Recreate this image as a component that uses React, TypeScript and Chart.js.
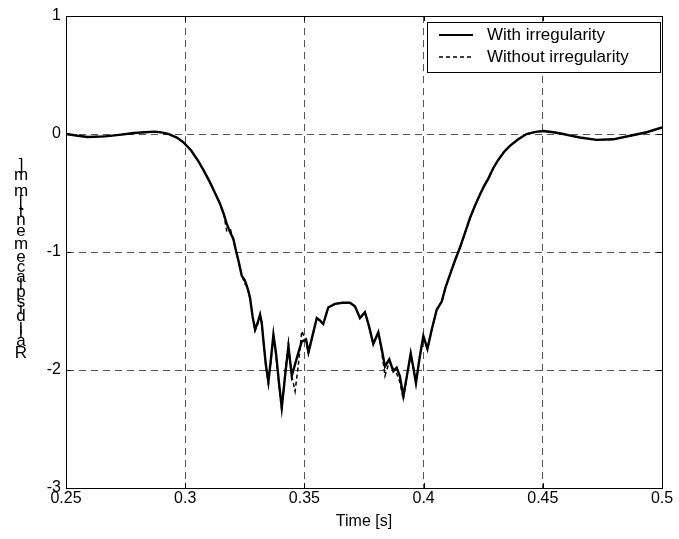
import React, { useEffect, useRef } from "react";
import { Chart, registerables } from "chart.js";

Chart.register(...registerables);

const timeS = [
  0.25, 0.255, 0.259, 0.2664, 0.2733, 0.2785, 0.2831, 0.2873, 0.2905, 0.2929,
  0.2965, 0.2992, 0.3025, 0.3055, 0.3078, 0.3104, 0.3125, 0.3146, 0.3162, 0.3174,
  0.319, 0.3202, 0.3213, 0.3223, 0.3237, 0.325, 0.3262, 0.3272, 0.3283, 0.3293,
  0.3304, 0.3314, 0.3321, 0.3328, 0.3338, 0.3349, 0.336, 0.337, 0.3381, 0.3393,
  0.3405, 0.3419, 0.3433, 0.3447, 0.3461, 0.3475, 0.3489, 0.3507, 0.3517, 0.3535,
  0.3552, 0.3565, 0.3579, 0.36, 0.3628, 0.366, 0.3691, 0.3712, 0.3733, 0.3754,
  0.377, 0.3789, 0.381, 0.3824, 0.3838, 0.3856, 0.3873, 0.3887, 0.39, 0.3915,
  0.393, 0.3946, 0.3957, 0.3968, 0.3983, 0.3999, 0.4016, 0.4035, 0.4055, 0.4076,
  0.4092, 0.4111, 0.4132, 0.4153, 0.4175, 0.4195, 0.4215, 0.4237, 0.4254, 0.4271,
  0.4292, 0.4313, 0.4338, 0.4362, 0.4397, 0.4432, 0.447, 0.4502, 0.4545, 0.4586,
  0.4621, 0.4656, 0.4726, 0.4796, 0.4866, 0.4936, 0.5,
];

const withIrregularity = [
  0.0, -0.015, -0.025, -0.02, -0.005, 0.008, 0.015, 0.02, 0.012, 0.0,
  -0.03, -0.07, -0.14, -0.23, -0.31, -0.41, -0.5, -0.59, -0.68, -0.76,
  -0.84, -0.89, -0.99, -1.07, -1.2, -1.24, -1.31, -1.39, -1.55, -1.655,
  -1.6, -1.53, -1.6, -1.75, -1.95, -2.1, -1.9, -1.7, -1.86, -2.1,
  -2.32, -2.05, -1.8, -2.05, -1.95, -1.85, -1.76, -1.74, -1.85, -1.7,
  -1.56, -1.58, -1.61, -1.47, -1.44, -1.43, -1.43, -1.46, -1.56, -1.51,
  -1.62, -1.78, -1.68, -1.82, -1.97, -1.91, -2.01, -1.98, -2.05, -2.22,
  -2.05, -1.86, -1.98, -2.11, -1.9, -1.71, -1.82, -1.65, -1.49, -1.42,
  -1.3, -1.19, -1.07, -0.96, -0.83, -0.71, -0.61, -0.51, -0.44, -0.38,
  -0.29, -0.22, -0.15, -0.1, -0.045, 0.0, 0.018, 0.025, 0.015, 0.0,
  -0.016, -0.03, -0.05, -0.045, -0.015, 0.015, 0.055,
];

const withoutIrregularity = [
  0.0, -0.015, -0.025, -0.02, -0.005, 0.008, 0.015, 0.02, 0.012, 0.0,
  -0.03, -0.07, -0.14, -0.23, -0.31, -0.41, -0.5, -0.59, -0.68, -0.82,
  -0.81, -0.9, -0.99, -1.08, -1.19, -1.27, -1.29, -1.4, -1.56, -1.67,
  -1.61, -1.54, -1.6, -1.74, -1.96, -2.12, -1.92, -1.72, -1.88, -2.12,
  -2.34, -2.02, -1.77, -2.05, -2.18, -1.95, -1.67, -1.76, -1.86, -1.71,
  -1.56, -1.58, -1.61, -1.47, -1.44, -1.43, -1.43, -1.46, -1.56, -1.51,
  -1.63, -1.78, -1.68, -1.84, -2.05, -1.93, -1.99, -2.03, -2.1, -2.25,
  -2.06, -1.87, -1.99, -2.1, -1.9, -1.72, -1.82, -1.65, -1.49, -1.42,
  -1.3, -1.19, -1.07, -0.96, -0.83, -0.71, -0.61, -0.51, -0.44, -0.38,
  -0.29, -0.22, -0.15, -0.1, -0.045, 0.0, 0.018, 0.025, 0.015, 0.0,
  -0.016, -0.03, -0.05, -0.045, -0.015, 0.015, 0.055,
];

const xTickValues = [0.25, 0.3, 0.35, 0.4, 0.45, 0.5];
const xTickLabels = ["0.25", "0.3", "0.35", "0.4", "0.45", "0.5"];
const yTickValues = [1, 0, -1, -2, -3];
const yTickLabels = ["1", "0", "-1", "-2", "-3"];

const seriesNames = ["With irregularity", "Without irregularity"];
const xTitle = "Time [s]";
const yTitle = "Rail displacement [mm]";

const FONT = "Arial, 'Liberation Sans', Helvetica, sans-serif";

const framePlugin = {
  id: "frame",
  afterDraw(chart: any) {
    const { ctx, chartArea: a, scales } = chart;
    ctx.save();
    ctx.strokeStyle = "#000";
    ctx.lineWidth = 1;
    ctx.setLineDash([]);
    ctx.strokeRect(Math.round(a.left) + 0.5, Math.round(a.top) + 0.5, Math.round(a.right - a.left), Math.round(a.bottom - a.top));
    const tl = 5;
    ctx.beginPath();
    xTickValues.forEach((v) => {
      const x = Math.round(scales.x.getPixelForValue(v)) + 0.5;
      ctx.moveTo(x, a.bottom);
      ctx.lineTo(x, a.bottom - tl);
      ctx.moveTo(x, a.top);
      ctx.lineTo(x, a.top + tl);
    });
    yTickValues.forEach((v) => {
      const y = Math.round(scales.y.getPixelForValue(v)) + 0.5;
      ctx.moveTo(a.left, y);
      ctx.lineTo(a.left + tl, y);
      ctx.moveTo(a.right, y);
      ctx.lineTo(a.right - tl, y);
    });
    ctx.stroke();

    // y title: upright characters stacked bottom-to-top
    ctx.font = `17px ${FONT}`;
    ctx.fillStyle = "#000";
    ctx.textAlign = "center";
    ctx.textBaseline = "middle";
    const chars = Array.from(yTitle);
    const widths = chars.map((c) => ctx.measureText(c).width);
    const centers: number[] = [];
    let cum = 0;
    widths.forEach((w) => {
      centers.push(cum + w / 2);
      cum += w;
    });
    const yBottom = 353;
    const yTop = 165;
    const k = (yBottom - yTop) / (centers[centers.length - 1] - centers[0]);
    chars.forEach((c, i) => {
      const y = yBottom - (centers[i] - centers[0]) * k;
      ctx.fillText(c, 21, y);
    });

    // legend
    const lx = 427, ly = 22, lw = 233, lh = 50;
    ctx.fillStyle = "#fff";
    ctx.fillRect(lx, ly, lw, lh);
    ctx.strokeStyle = "#000";
    ctx.lineWidth = 1;
    ctx.strokeRect(lx + 0.5, ly + 0.5, lw, lh);
    const rows = [35, 57];
    ctx.lineWidth = 2;
    ctx.beginPath();
    ctx.moveTo(439, rows[0]);
    ctx.lineTo(473, rows[0]);
    ctx.stroke();
    ctx.lineWidth = 1.5;
    ctx.setLineDash([4, 3]);
    ctx.beginPath();
    ctx.moveTo(439, rows[1]);
    ctx.lineTo(473, rows[1]);
    ctx.stroke();
    ctx.setLineDash([]);
    ctx.fillStyle = "#000";
    ctx.textAlign = "left";
    ctx.font = `17px ${FONT}`;
    seriesNames.forEach((n, i) => ctx.fillText(n, 487, rows[i]));
    ctx.restore();
  },
};

export default function App() {
  const ref = useRef<HTMLCanvasElement | null>(null);
  useEffect(() => {
    if (!ref.current) return;
    const chart = new Chart(ref.current, {
      type: "line",
      data: {
        datasets: [
          {
            label: seriesNames[0],
            data: timeS.map((t, i) => ({ x: t, y: withIrregularity[i] })),
            borderColor: "#000",
            borderWidth: 2.4,
            pointRadius: 0,
            tension: 0,
          },
          {
            label: seriesNames[1],
            data: timeS.map((t, i) => ({ x: t, y: withoutIrregularity[i] })),
            borderColor: "#000",
            borderWidth: 1.5,
            borderDash: [4, 3],
            pointRadius: 0,
            tension: 0,
          },
        ],
      },
      options: {
        animation: false,
        responsive: false,
        events: [],
        layout: { padding: { left: 0, top: 16, right: 17, bottom: 0 } },
        plugins: { legend: { display: false }, tooltip: { enabled: false } },
        scales: {
          x: {
            type: "linear",
            min: 0.25,
            max: 0.5,
            afterBuildTicks: (s: any) => {
              s.ticks = xTickValues.map((v) => ({ value: v }));
            },
            afterFit: (s: any) => {
              s.height = 51;
            },
            ticks: {
              padding: 1,
              color: "#000",
              font: { family: FONT, size: 16 },
              maxRotation: 0,
              callback: (v: any) => {
                const i = xTickValues.findIndex((t) => Math.abs(t - v) < 1e-9);
                return i >= 0 ? xTickLabels[i] : "";
              },
            },
            grid: { color: "#555", lineWidth: 1, drawTicks: false },
            border: { display: true, color: "#000", width: 1, dash: [7, 5] },
            title: {
              display: true,
              text: xTitle,
              color: "#000",
              font: { family: FONT, size: 16 },
              padding: { top: 0, bottom: 8 },
            },
          },
          y: {
            type: "linear",
            min: -3,
            max: 1,
            afterBuildTicks: (s: any) => {
              s.ticks = yTickValues.map((v) => ({ value: v }));
            },
            afterFit: (s: any) => {
              s.width = 66;
            },
            ticks: {
              padding: 5,
              color: "#000",
              font: { family: FONT, size: 16 },
              callback: (v: any) => {
                const i = yTickValues.findIndex((t) => Math.abs(t - v) < 1e-9);
                return i >= 0 ? yTickLabels[i] : "";
              },
            },
            grid: { color: "#555", lineWidth: 1, drawTicks: false },
            border: { display: true, color: "#000", width: 1, dash: [7, 5] },
          },
        },
      },
      plugins: [framePlugin],
    } as any);
    return () => chart.destroy();
  }, []);
  return (
    <div style={{ position: "absolute", left: 0, top: 0, width: 679, height: 539, background: "#fff" }}>
      <canvas ref={ref} width={679} height={539} style={{ display: "block" }} />
    </div>
  );
}
